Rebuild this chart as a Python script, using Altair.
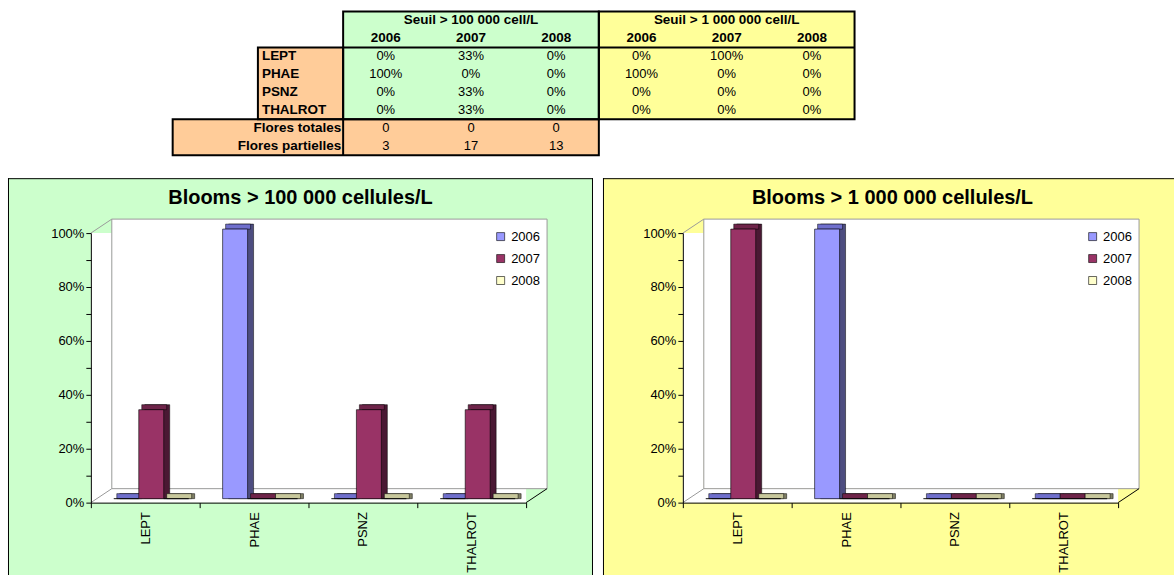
import altair as alt
import pandas as pd

# ---------------- data ----------------
species = ["LEPT", "PHAE", "PSNZ", "THALROT"]
years = ["2006", "2007", "2008"]

pct_100k_2006 = [0.0, 1.0, 0.0, 0.0]
pct_100k_2007 = [0.33, 0.0, 0.33, 0.33]
pct_100k_2008 = [0.0, 0.0, 0.0, 0.0]

pct_1m_2006 = [0.0, 1.0, 0.0, 0.0]
pct_1m_2007 = [1.0, 0.0, 0.0, 0.0]
pct_1m_2008 = [0.0, 0.0, 0.0, 0.0]

flores_labels = ["Flores totales", "Flores partielles"]
flores_totales = [0, 0, 0]
flores_partielles = [3, 17, 13]

threshold_titles = ["Seuil > 100 000 cell/L", "Seuil > 1 000 000 cell/L"]
chart_titles = ["Blooms > 100 000 cellules/L", "Blooms > 1 000 000 cellules/L"]
y_ticks = [0, 0.1, 0.2, 0.3, 0.4, 0.5, 0.6, 0.7, 0.8, 0.9, 1.0]

# ---------------- styles ----------------
FONT = "Liberation Sans"
GREEN = "#CCFFCC"
YELLOW = "#FFFF99"
ORANGE = "#FFCC99"
FRONT = {"2006": "#9999FF", "2007": "#993366", "2008": "#FFFFCC"}
TOP = {"2006": "#6F6FCC", "2007": "#6E2449", "2008": "#C8C89C"}
SIDE = {"2006": "#4D4D80", "2007": "#4A1833", "2008": "#808066"}

W, H = 436, 270      # front plane of the 3D plot
DX, DY = 21, 14      # depth of the walls

# ---------------- table ----------------
tx = alt.Scale(domain=[-0.96, 8], nice=False, zero=False)
ty = alt.Scale(domain=[0, 8], nice=False, zero=False, reverse=True)

fills = pd.DataFrame([
    dict(c0=1, c1=2, r0=2, r1=6, f=ORANGE),
    dict(c0=0, c1=5, r0=6, r1=8, f=ORANGE),
    dict(c0=2, c1=5, r0=0, r1=6, f=GREEN),
    dict(c0=5, c1=8, r0=0, r1=6, f=YELLOW),
])
boxes = pd.DataFrame([
    dict(c0=2, c1=5, r0=0, r1=6),
    dict(c0=5, c1=8, r0=0, r1=6),
    dict(c0=1, c1=2, r0=2, r1=6),
    dict(c0=0, c1=5, r0=6, r1=8),
])
lines = pd.DataFrame([
    dict(c0=2, c1=8, r0=2, r1=2),
    dict(c0=2, c1=2, r0=6, r1=8),
])

head_rows = []
for j, t in enumerate(threshold_titles):
    head_rows.append(dict(c=3.5 + 3 * j, r=0.5, t=t))
    for k, yr in enumerate(years):
        head_rows.append(dict(c=2.5 + 3 * j + k, r=1.5, t=yr))
heads = pd.DataFrame(head_rows)

sp_rows = pd.DataFrame([dict(c=1, r=2.5 + i, t=s) for i, s in enumerate(species)])
fl_rows = pd.DataFrame([dict(c=2, r=6.5 + i, t=s) for i, s in enumerate(flores_labels)])

val_rows = []
groups = [[pct_100k_2006, pct_100k_2007, pct_100k_2008], [pct_1m_2006, pct_1m_2007, pct_1m_2008]]
for j, grp in enumerate(groups):
    for k, vals in enumerate(grp):
        for i, v in enumerate(vals):
            val_rows.append(dict(c=2.5 + 3 * j + k, r=2.5 + i, t=f"{round(v * 100)}%"))
for k in range(3):
    val_rows.append(dict(c=2.5 + k, r=6.5, t=str(flores_totales[k])))
    val_rows.append(dict(c=2.5 + k, r=7.5, t=str(flores_partielles[k])))
vals_df = pd.DataFrame(val_rows)


def rect_enc():
    return dict(
        x=alt.X("c0:Q", scale=tx, axis=None),
        x2="c1:Q",
        y=alt.Y("r0:Q", scale=ty, axis=None),
        y2="r1:Q",
    )


def text_enc():
    return dict(
        x=alt.X("c:Q", scale=tx, axis=None),
        y=alt.Y("r:Q", scale=ty, axis=None),
        text="t:N",
    )


t_fill = alt.Chart(fills).mark_rect().encode(fill=alt.Fill("f:N", scale=None), **rect_enc())
t_box = alt.Chart(boxes).mark_rect(fillOpacity=0, stroke="black", strokeWidth=2).encode(**rect_enc())
t_line = alt.Chart(lines).mark_rule(color="black", strokeWidth=2).encode(**rect_enc())
t_head = alt.Chart(heads).mark_text(fontSize=13.5, fontWeight="bold", font=FONT, color="black").encode(**text_enc())
t_sp = alt.Chart(sp_rows).mark_text(fontSize=13.5, fontWeight="bold", font=FONT, align="left", dx=4, color="black").encode(**text_enc())
t_fl = alt.Chart(fl_rows).mark_text(fontSize=13.5, fontWeight="bold", font=FONT, align="right", dx=-2, color="black").encode(**text_enc())
t_val = alt.Chart(vals_df).mark_text(fontSize=13, font=FONT, color="black").encode(**text_enc())

table = alt.layer(t_fill, t_line, t_box, t_head, t_sp, t_fl, t_val).properties(width=765, height=144)


# ---------------- bar panels ----------------
def bar_df(v2006, v2007, v2008):
    rows = []
    for yr, vals in zip(years, [v2006, v2007, v2008]):
        for sp, v in zip(species, vals):
            rows.append(dict(species=sp, year=yr, value=v, top=TOP[yr], side=SIDE[yr]))
    return pd.DataFrame(rows)


xaxis = alt.Axis(title=None, labelAngle=270, tickBand="extent", tickSize=5, tickColor="black",
                 domainColor="black", labelColor="black", labelFontSize=13, labelFont=FONT,
                 labelPadding=4, grid=False, zindex=1)
yaxis = alt.Axis(title=None, values=y_ticks,
                 labelExpr="round(datum.value * 10) % 2 == 0 ? format(datum.value, '.0%') : ''",
                 tickSize=5, tickColor="black", domainColor="black", labelColor="black",
                 labelFontSize=13, labelFont=FONT, labelPadding=2, grid=False, zindex=1)


def X():
    return alt.X("species:N", sort=species,
                 scale=alt.Scale(domain=species, paddingInner=0, paddingOuter=0), axis=xaxis)


def Y():
    return alt.Y("value:Q", scale=alt.Scale(domain=[0, 1], nice=False, zero=True), axis=yaxis)


def XO(lo):
    return alt.XOffset("year:N", scale=alt.Scale(domain=years, range=[lo, lo + 75],
                                                 paddingInner=0, paddingOuter=0))


def panel(df, title, bg, left, right, right_border=True):
    one = alt.Chart(pd.DataFrame({"title": [title]}))
    layers = [
        one.mark_rect(fill=bg).encode(x=alt.value(left), x2=alt.value(right), y=alt.value(-55), y2=alt.value(343)),
        one.mark_rule(color="black", strokeWidth=1).encode(x=alt.value(left + 0.5), y=alt.value(-55), y2=alt.value(343)),
        one.mark_rule(color="black", strokeWidth=1).encode(x=alt.value(left), x2=alt.value(right), y=alt.value(-54.5)),
    ]
    if right_border:
        layers.append(one.mark_rule(color="black", strokeWidth=1).encode(
            x=alt.value(right - 0.5), y=alt.value(-55), y2=alt.value(343)))
    layers += [
        one.mark_rect(fill="white").encode(x=alt.value(0), x2=alt.value(DX), y=alt.value(0), y2=alt.value(H)),
        one.mark_rect(fill="white").encode(x=alt.value(0), x2=alt.value(W), y=alt.value(H - DY), y2=alt.value(H)),
        one.mark_rect(fill="white", stroke="#9A9A9A", strokeWidth=1).encode(
            x=alt.value(DX), x2=alt.value(W + DX), y=alt.value(-DY), y2=alt.value(H - DY)),
        one.mark_rule(color="#9A9A9A").encode(x=alt.value(0), x2=alt.value(DX), y=alt.value(0), y2=alt.value(-DY)),
        one.mark_rule(color="#9A9A9A").encode(x=alt.value(0), x2=alt.value(DX), y=alt.value(H), y2=alt.value(H - DY)),
        one.mark_rule(color="black").encode(x=alt.value(W), x2=alt.value(W + DX), y=alt.value(H), y2=alt.value(H - DY)),
    ]
    bars = alt.Chart(df)
    side = bars.mark_bar(stroke="black", strokeWidth=0.5, yOffset=-9, y2Offset=-4).encode(
        x=X(), xOffset=XO(29), y=Y(), y2=alt.datum(0), fill=alt.Fill("side:N", scale=None))
    top = bars.mark_bar(stroke="black", strokeWidth=0.5, yOffset=-9, y2Offset=-4).encode(
        x=X(), xOffset=XO(26), y=Y(), y2=alt.Y2("value:Q"), fill=alt.Fill("top:N", scale=None))
    front = bars.mark_bar(stroke="black", strokeWidth=0.6, yOffset=-4, y2Offset=-4).encode(
        x=X(), xOffset=XO(23), y=Y(), y2=alt.datum(0),
        color=alt.Color("year:N", scale=alt.Scale(domain=years, range=[FRONT[y] for y in years]),
                        legend=alt.Legend(title=None, orient="none", legendX=404, legendY=-3,
                                          symbolType="square", symbolSize=64,
                                          symbolStrokeColor="black", symbolStrokeWidth=0.6,
                                          labelFontSize=13, labelFont=FONT, labelColor="black",
                                          rowPadding=8, labelOffset=4, padding=0, zindex=1)))
    ttl = one.mark_text(fontSize=20, fontWeight="bold", font=FONT, color="black").encode(
        x=alt.value(210), y=alt.value(-35), text="title:N")
    layers += [side, top, front, ttl]
    return alt.layer(*layers).resolve_scale(xOffset="independent").properties(width=W, height=H)


left_panel = panel(bar_df(pct_100k_2006, pct_100k_2007, pct_100k_2008), chart_titles[0], GREEN, -83, 503)
right_panel = panel(bar_df(pct_1m_2006, pct_1m_2007, pct_1m_2008), chart_titles[1], YELLOW, -80, 492,
                    right_border=False)

charts = alt.hconcat(left_panel, right_panel, spacing=157, bounds="flush").resolve_scale(
    color="independent").resolve_legend(color="independent")
chart = alt.vconcat(table, charts, spacing=78, bounds="flush").resolve_scale(
    color="independent").resolve_legend(color="independent").properties(
    padding={"left": 7, "top": 10, "right": 0, "bottom": 0},
    background="white",
).configure_view(stroke=None).configure_text(font=FONT)

chart.save("out.html", embed_options={"renderer": "svg", "actions": False})
